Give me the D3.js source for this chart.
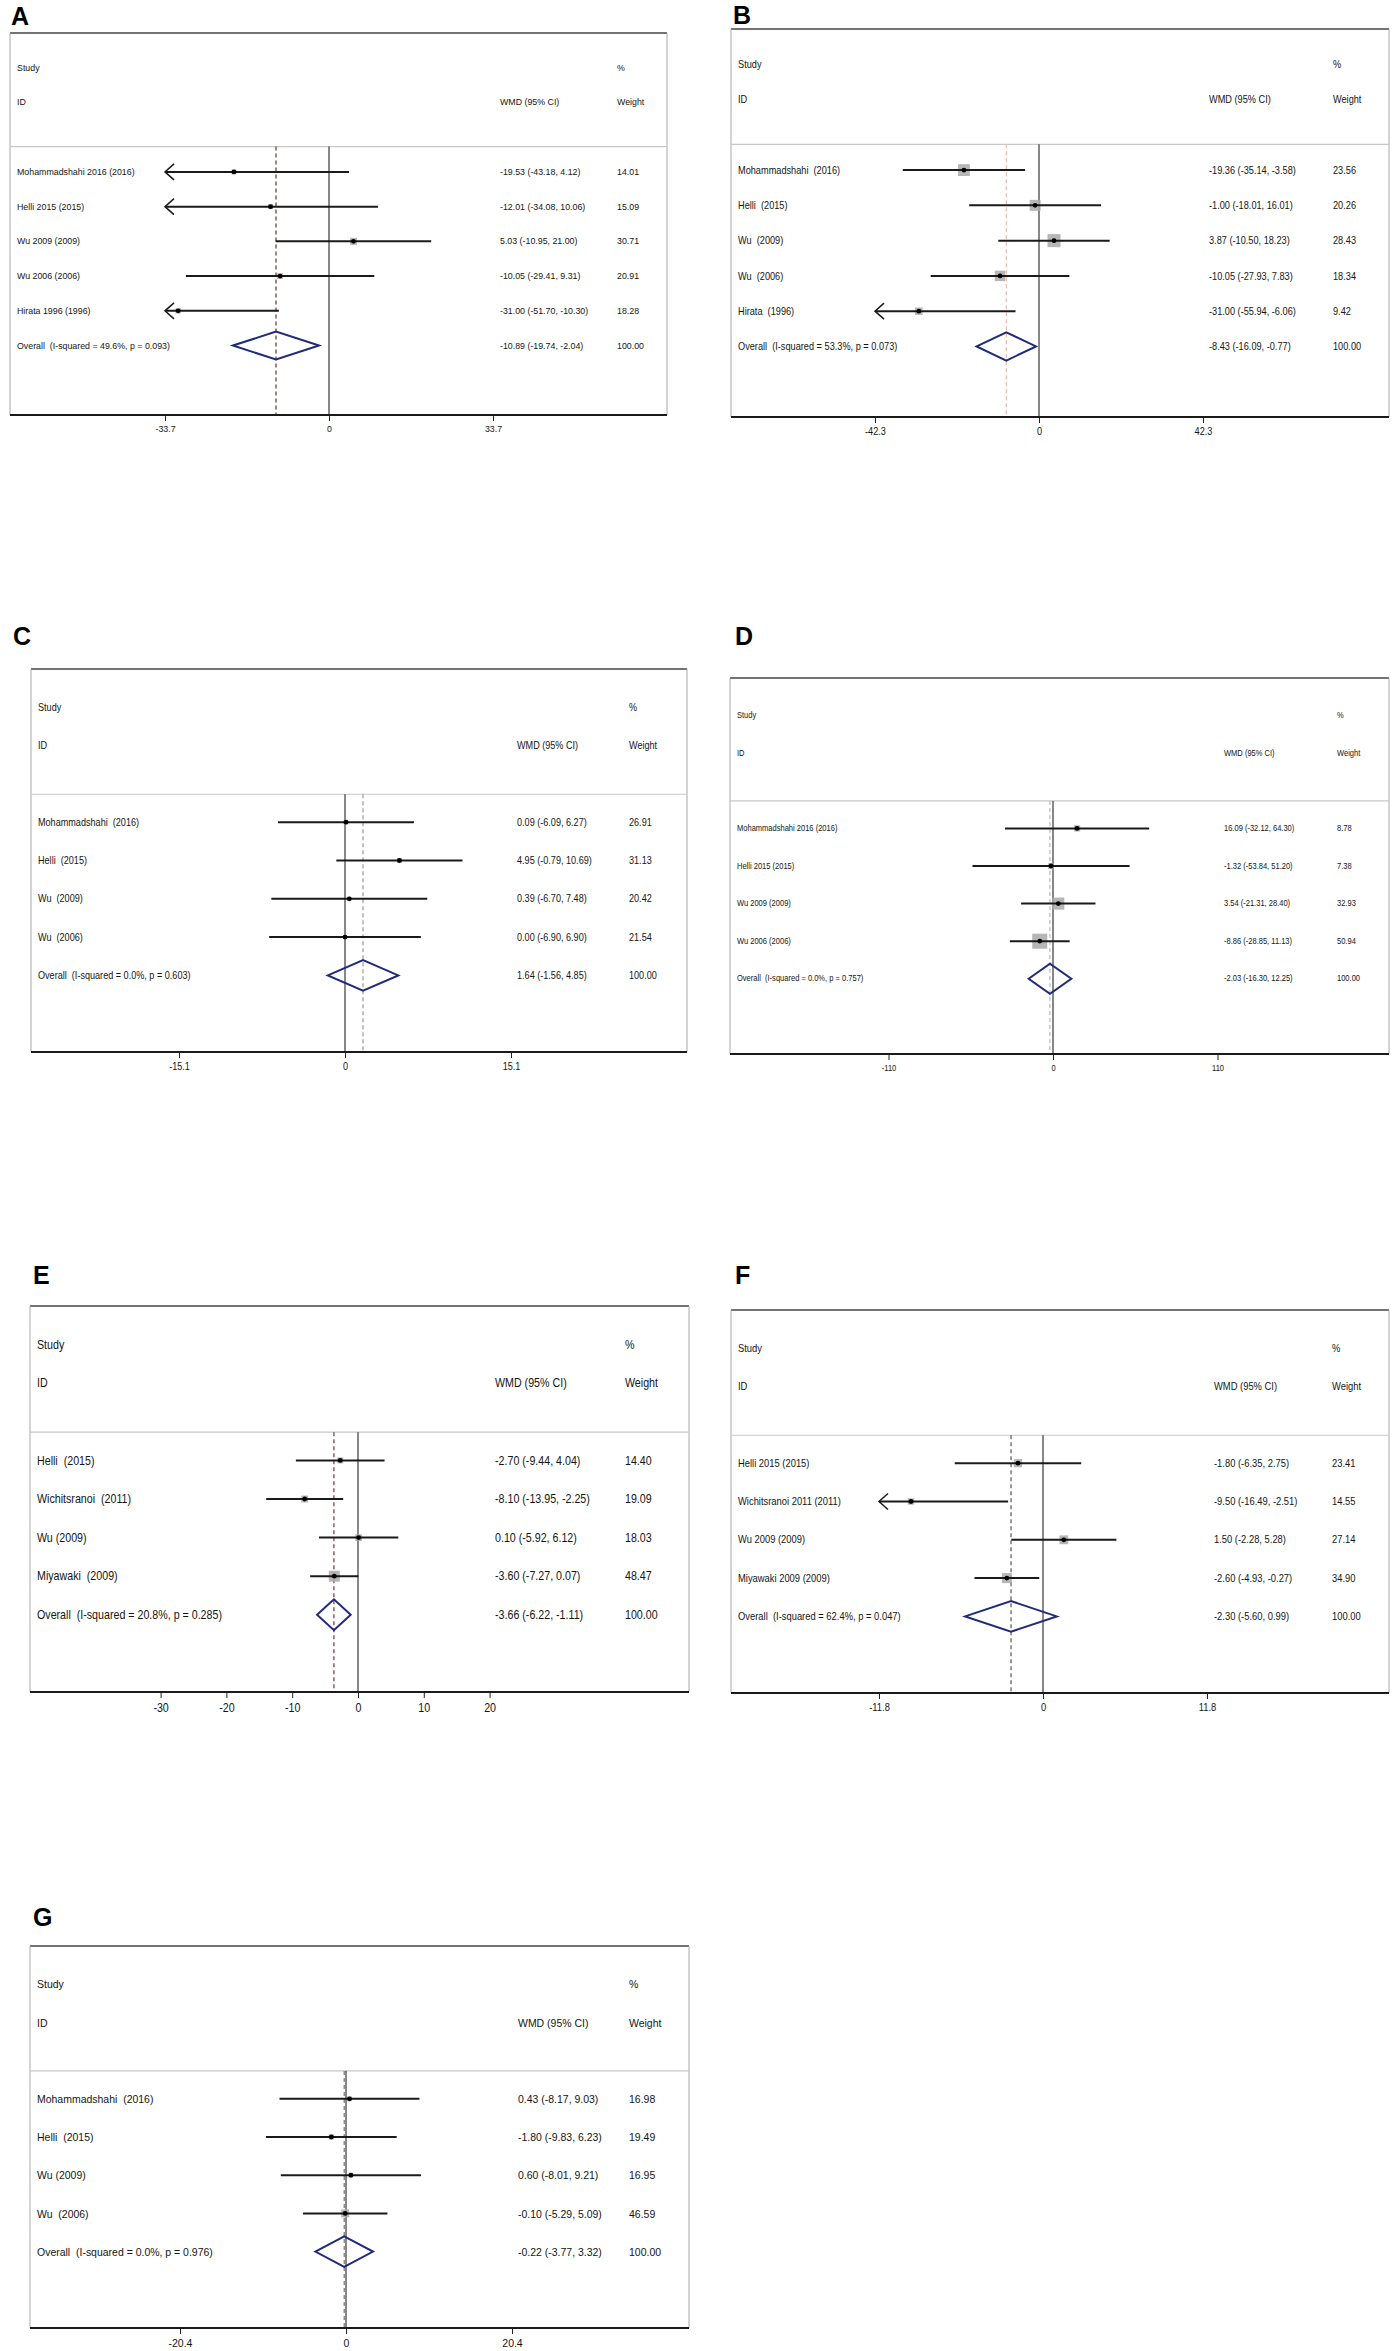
<!DOCTYPE html>
<html><head><meta charset="utf-8">
<script src="https://cdn.jsdelivr.net/npm/d3@7/dist/d3.min.js"></script>
<style>body{margin:0;background:#fff}svg{display:block}text{white-space:pre}</style>
</head><body><svg id="c"></svg>
<script>
// ---------------- DATA ----------------
const studiesA = ["Mohammadshahi 2016 (2016)", "Helli 2015 (2015)", "Wu 2009 (2009)", "Wu 2006 (2006)", "Hirata 1996 (1996)"];
const wmdA = [-19.53, -12.01, 5.03, -10.05, -31.00];
const lowerA = [-43.18, -34.08, -10.95, -29.41, -51.70];
const upperA = [4.12, 10.06, 21.00, 9.31, -10.30];
const weightA = [14.01, 15.09, 30.71, 20.91, 18.28];
const overallA = ["Overall  (I-squared = 49.6%, p = 0.093)", -10.89, -19.74, -2.04, 100.00];
const ticksA = [-33.7, 0, 33.7];

const studiesB = ["Mohammadshahi  (2016)", "Helli  (2015)", "Wu  (2009)", "Wu  (2006)", "Hirata  (1996)"];
const wmdB = [-19.36, -1.00, 3.87, -10.05, -31.00];
const lowerB = [-35.14, -18.01, -10.50, -27.93, -55.94];
const upperB = [-3.58, 16.01, 18.23, 7.83, -6.06];
const weightB = [23.56, 20.26, 28.43, 18.34, 9.42];
const overallB = ["Overall  (I-squared = 53.3%, p = 0.073)", -8.43, -16.09, -0.77, 100.00];
const ticksB = [-42.3, 0, 42.3];

const studiesC = ["Mohammadshahi  (2016)", "Helli  (2015)", "Wu  (2009)", "Wu  (2006)"];
const wmdC = [0.09, 4.95, 0.39, 0.00];
const lowerC = [-6.09, -0.79, -6.70, -6.90];
const upperC = [6.27, 10.69, 7.48, 6.90];
const weightC = [26.91, 31.13, 20.42, 21.54];
const overallC = ["Overall  (I-squared = 0.0%, p = 0.603)", 1.64, -1.56, 4.85, 100.00];
const ticksC = [-15.1, 0, 15.1];

const studiesD = ["Mohammadshahi 2016 (2016)", "Helli 2015 (2015)", "Wu 2009 (2009)", "Wu 2006 (2006)"];
const wmdD = [16.09, -1.32, 3.54, -8.86];
const lowerD = [-32.12, -53.84, -21.31, -28.85];
const upperD = [64.30, 51.20, 28.40, 11.13];
const weightD = [8.78, 7.38, 32.93, 50.94];
const overallD = ["Overall  (I-squared = 0.0%, p = 0.757)", -2.03, -16.30, 12.25, 100.00];
const ticksD = [-110, 0, 110];

const studiesE = ["Helli  (2015)", "Wichitsranoi  (2011)", "Wu (2009)", "Miyawaki  (2009)"];
const wmdE = [-2.70, -8.10, 0.10, -3.60];
const lowerE = [-9.44, -13.95, -5.92, -7.27];
const upperE = [4.04, -2.25, 6.12, 0.07];
const weightE = [14.40, 19.09, 18.03, 48.47];
const overallE = ["Overall  (I-squared = 20.8%, p = 0.285)", -3.66, -6.22, -1.11, 100.00];
const ticksE = [-30, -20, -10, 0, 10, 20];

const studiesF = ["Helli 2015 (2015)", "Wichitsranoi 2011 (2011)", "Wu 2009 (2009)", "Miyawaki 2009 (2009)"];
const wmdF = [-1.80, -9.50, 1.50, -2.60];
const lowerF = [-6.35, -16.49, -2.28, -4.93];
const upperF = [2.75, -2.51, 5.28, -0.27];
const weightF = [23.41, 14.55, 27.14, 34.90];
const overallF = ["Overall  (I-squared = 62.4%, p = 0.047)", -2.30, -5.60, 0.99, 100.00];
const ticksF = [-11.8, 0, 11.8];

const studiesG = ["Mohammadshahi  (2016)", "Helli  (2015)", "Wu (2009)", "Wu  (2006)"];
const wmdG = [0.43, -1.80, 0.60, -0.10];
const lowerG = [-8.17, -9.83, -8.01, -5.29];
const upperG = [9.03, 6.23, 9.21, 5.09];
const weightG = [16.98, 19.49, 16.95, 46.59];
const overallG = ["Overall  (I-squared = 0.0%, p = 0.976)", -0.22, -3.77, 3.32, 100.00];
const ticksG = [-20.4, 0, 20.4];

// ---------------- LAYOUT (pixels / styles only) ----------------
const panels = [
  {key:"A", lx:11, ly:16, x0:10, x1:667, top:33, axis:415, zx:329, hp:164, ref:33.7, cw:500, cp:617, fs:9.0, sx:.98, box:7, dash:"#6a3030",
   s:studiesA, e:wmdA, lo:lowerA, hi:upperA, w:weightA, o:overallA, t:ticksA},
  {key:"B", lx:733, ly:15, x0:731, x1:1389, top:29, axis:417, zx:1039, hp:164, ref:42.3, cw:1209, cp:1333, fs:10, sx:.92, box:13, dash:"#f0b8a8",
   s:studiesB, e:wmdB, lo:lowerB, hi:upperB, w:weightB, o:overallB, t:ticksB},
  {key:"C", lx:13, ly:636, x0:31, x1:687, top:669, axis:1052, zx:345, hp:166, ref:15.1, cw:517, cp:629, fs:10, sx:.91, box:5, dash:"#999999",
   s:studiesC, e:wmdC, lo:lowerC, hi:upperC, w:weightC, o:overallC, t:ticksC},
  {key:"D", lx:735, ly:636, x0:730, x1:1389, top:678, axis:1054, zx:1053, hp:164.5, ref:110, cw:1224, cp:1337, fs:8.2, sx:.92, box:15, dash:"#bbbbbb",
   s:studiesD, e:wmdD, lo:lowerD, hi:upperD, w:weightD, o:overallD, t:ticksD},
  {key:"E", lx:33, ly:1275, x0:30, x1:689, top:1306, axis:1692, zx:358, hp:131.6, ref:20, cw:495, cp:625, fs:12, sx:.89, box:11, dash:"#8a2a3a",
   s:studiesE, e:wmdE, lo:lowerE, hi:upperE, w:weightE, o:overallE, t:ticksE},
  {key:"F", lx:735, ly:1275, x0:731, x1:1389, top:1310, axis:1693, zx:1043, hp:164, ref:11.8, cw:1214, cp:1332, fs:10.2, sx:.92, box:10, dash:"#555555",
   s:studiesF, e:wmdF, lo:lowerF, hi:upperF, w:weightF, o:overallF, t:ticksF},
  {key:"G", lx:33, ly:1917, x0:30, x1:689, top:1946, axis:2328, zx:346, hp:166, ref:20.4, cw:518, cp:629, fs:11.4, sx:.92, box:8, dash:"#777777",
   s:studiesG, e:wmdG, lo:lowerG, hi:upperG, w:weightG, o:overallG, t:ticksG}
];

const FONT = "'Liberation Sans', Arial, Helvetica, sans-serif";
const svg = d3.select("#c").attr("width", 1397).attr("height", 2351)
  .style("font-family", FONT);
const f2 = v => v.toFixed(2);
const ciText = (e, l, h) => `${f2(e)} (${f2(l)}, ${f2(h)})`;

function drawPanel(p) {
  const g = svg.append("g");
  const n = p.s.length;
  const x = d3.scaleLinear().domain([0, p.ref]).range([p.zx, p.zx + p.hp]);
  const y = d3.scaleLinear().domain([0, n + 6]).range([p.top, p.axis]);
  const rowH = y(1) - y(0);
  const tmin = d3.min(p.t), tmax = d3.max(p.t);
  const xL = p.x0 + 7;
  const yHead = y(3.27);

  // panel letter
  g.append("text").attr("x", p.lx).attr("y", p.ly).attr("dominant-baseline", "central")
    .attr("font-size", 25).attr("font-weight", "bold").attr("fill", "#000").text(p.key);

  // frame
  g.append("line").attr("x1", p.x0).attr("x2", p.x1).attr("y1", p.top).attr("y2", p.top)
    .attr("stroke", "#444").attr("stroke-width", 1.6);
  [p.x0, p.x1].forEach(xx => g.append("line").attr("x1", xx).attr("x2", xx)
    .attr("y1", p.top).attr("y2", p.axis).attr("stroke", "#a8a8a8").attr("stroke-width", 1));
  g.append("line").attr("x1", p.x0).attr("x2", p.x1).attr("y1", yHead).attr("y2", yHead)
    .attr("stroke", "#c8c8c8").attr("stroke-width", 1.2);

  // text helper (slightly condensed like the source)
  const txt = (xx, yy, s) => g.append("text")
    .attr("transform", `translate(${xx},${yy}) scale(${p.sx},1)`)
    .attr("dominant-baseline", "central").attr("font-size", p.fs).attr("fill", "#151515").text(s);
  txt(xL, y(1), "Study");
  txt(xL, y(2), "ID");
  txt(p.cw, y(2), "WMD (95% CI)");
  txt(p.cp, y(1), "%");
  txt(p.cp, y(2), "Weight");

  // reference lines
  g.append("line").attr("x1", x(0)).attr("x2", x(0)).attr("y1", yHead).attr("y2", p.axis)
    .attr("stroke", "#111").attr("stroke-width", 1);
  g.append("line").attr("x1", x(p.o[1])).attr("x2", x(p.o[1])).attr("y1", yHead).attr("y2", p.axis)
    .attr("stroke", p.dash).attr("stroke-width", 1.2).attr("stroke-dasharray", "4,3");

  // studies
  const maxW = d3.max(p.w);
  const side = d => p.box * Math.sqrt(d.w / maxW);
  const rows = p.s.map((name, i) => ({name, e: p.e[i], lo: p.lo[i], hi: p.hi[i], w: p.w[i], yy: y(4 + i)}));
  g.selectAll("rect.bx").data(rows).join("rect").attr("class", "bx")
    .attr("x", d => x(d.e) - side(d) / 2).attr("y", d => d.yy - side(d) / 2)
    .attr("width", side).attr("height", side)
    .attr("fill", "#a9a9a9").attr("opacity", .85);
  g.selectAll("line.ci").data(rows).join("line").attr("class", "ci")
    .attr("x1", d => x(Math.max(d.lo, tmin))).attr("x2", d => x(Math.min(d.hi, tmax)))
    .attr("y1", d => d.yy).attr("y2", d => d.yy)
    .attr("stroke", "#1a1a1a").attr("stroke-width", 2);
  rows.filter(d => d.lo < tmin).forEach(d => {
    const tx = x(tmin);
    g.append("path").attr("d", `M${tx + 9},${d.yy - 8}L${tx},${d.yy}L${tx + 9},${d.yy + 8}`)
      .attr("fill", "none").attr("stroke", "#1a1a1a").attr("stroke-width", 1.5);
  });
  rows.filter(d => d.hi > tmax).forEach(d => {
    const tx = x(tmax);
    g.append("path").attr("d", `M${tx - 9},${d.yy - 8}L${tx},${d.yy}L${tx - 9},${d.yy + 8}`)
      .attr("fill", "none").attr("stroke", "#1a1a1a").attr("stroke-width", 1.5);
  });
  g.selectAll("circle.pt").data(rows).join("circle").attr("class", "pt")
    .attr("cx", d => x(d.e)).attr("cy", d => d.yy).attr("r", 2.4).attr("fill", "#000");

  rows.forEach(d => {
    txt(xL, d.yy, d.name);
    txt(p.cw, d.yy, ciText(d.e, d.lo, d.hi));
    txt(p.cp, d.yy, f2(d.w));
  });

  // overall
  const yo = y(4 + n);
  const dh = 0.4 * rowH;
  g.append("path")
    .attr("d", `M${x(p.o[2])},${yo}L${x(p.o[1])},${yo - dh}L${x(p.o[3])},${yo}L${x(p.o[1])},${yo + dh}Z`)
    .attr("fill", "none").attr("stroke", "#1f2a7a").attr("stroke-width", 2);
  txt(xL, yo, p.o[0]);
  txt(p.cw, yo, ciText(p.o[1], p.o[2], p.o[3]));
  txt(p.cp, yo, f2(p.o[4]));

  // axis
  const ax = g.append("g").attr("transform", `translate(0,${p.axis})`)
    .call(d3.axisBottom(x).tickValues(p.t).tickSize(6).tickPadding(5).tickFormat(d => String(d)));
  ax.select(".domain").remove();
  ax.selectAll(".tick line").attr("stroke", "#222");
  ax.selectAll(".tick text").attr("font-size", p.fs).attr("fill", "#151515")
    .attr("font-family", FONT).attr("transform", `scale(${p.sx},1)`);
  g.append("line").attr("x1", p.x0).attr("x2", p.x1).attr("y1", p.axis).attr("y2", p.axis)
    .attr("stroke", "#1a1a1a").attr("stroke-width", 2);
}

panels.forEach(drawPanel);
</script>
</body></html>
